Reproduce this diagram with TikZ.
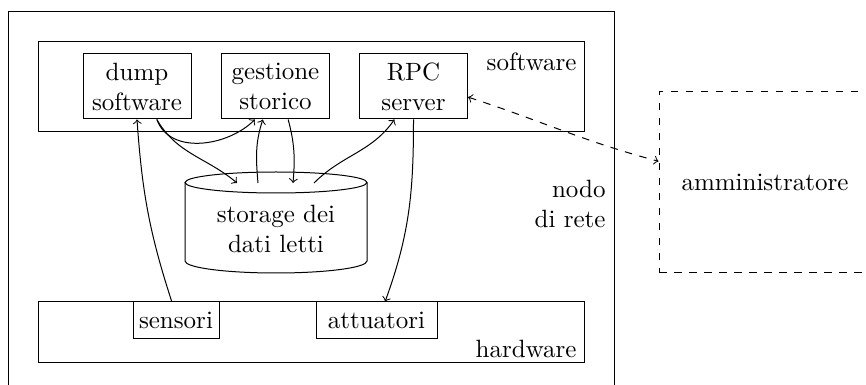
\documentclass[tikz,border=0pt]{standalone}
\usetikzlibrary{arrows}
\begin{document}
\begin{tikzpicture}[x=0.4pt,y=-0.4pt,
  box/.style={draw,rectangle,inner sep=0pt,align=center},
  unit/.style={box,minimum width=43.2pt,minimum height=26pt},
  device/.style={box,minimum height=14.4pt},
  layer/.style={box,minimum width=218pt},
  tag/.style={inner sep=0pt,anchor=east},
  link/.style={->},
]
\useasboundingbox (0,0) rectangle (866,385);
\clip (0,0) rectangle (866,385);

% network node and its two layers
\node[box,minimum width=242pt,minimum height=163.2pt] (rete) at (311.5,216) {};
\node[layer,minimum height=36pt] (sw) at (311.5,87) {};
\node[layer,minimum height=24pt] (hw) at (311.5,332) {};
\node[tag] (swlab) at (577,62) {software};
\node[tag] (hwlab) at (577,349) {hardware};
\node[tag,align=right] (retelab) at (606,204) {nodo\\di rete};

% software modules
\node[unit] (dump) at (137,86.5) {dump\\software};
\node[unit] (gest) at (275.5,86.5) {gestione\\storico};
\node[unit] (rpc) at (413.5,86.5) {RPC\\server};

% hardware devices
\node[device,minimum width=34.4pt] (sens) at (176,320) {sensori};
\node[device,minimum width=48.4pt] (att) at (376.5,320) {attuatori};

% data storage cylinder
\draw (185,182.5) -- (185,261)
  arc[start angle=180,end angle=360,x radius=36.4pt,y radius=4.8pt]
  -- (367,182.5);
\draw (276,182.5) ellipse [x radius=36.4pt,y radius=4.2pt];
\node[align=center,inner sep=0pt] (st) at (276,229) {storage dei\\dati letti};
\coordinate (c1) at (237,183);
\coordinate (c2) at (258,183);
\coordinate (c3) at (293,183);
\coordinate (c4) at (314,183);

% external administrator
\node[box,dashed,minimum width=84.8pt,minimum height=72pt] (admin) at (765,182) {amministratore};

% data flows
\draw[link] (dump.-59) to[out=-70,in=-135] (gest.-122);
\draw[link] (dump.-59) to[out=-60,in=140] (c1);
\draw[link] (c2) to[out=95,in=-108] (gest.-111);
\draw[link] (gest.-69) to[out=-75,in=85] (c3);
\draw[link] (c4) to[out=45,in=-125] (rpc.-120);
\draw[link] (rpc.south) to[out=-90,in=70] (att.65);
\draw[link] (sens.103) to[out=108,in=-86] (dump.south);
\draw[<->,dashed] (rpc.-11) to[out=-18,in=165] (admin.169);
\end{tikzpicture}
\end{document}
